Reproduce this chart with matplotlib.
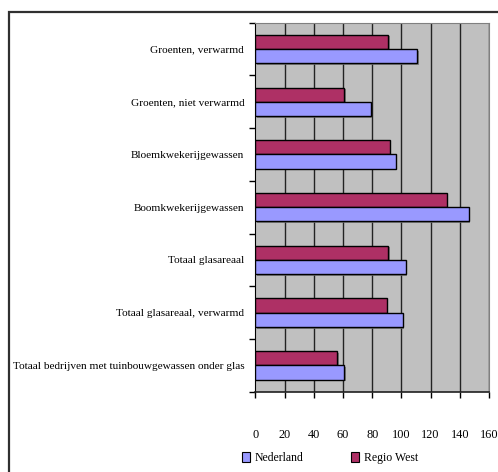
import matplotlib
matplotlib.use("Agg")
import matplotlib.pyplot as plt
import matplotlib.patheffects as pe
from matplotlib.patches import Rectangle, Patch
import numpy as np

categories = [
    "Groenten, verwarmd",
    "Groenten, niet verwarmd",
    "Bloemkwekerijgewassen",
    "Boomkwekerijgewassen",
    "Totaal glasareaal",
    "Totaal glasareaal, verwarmd",
    "Totaal bedrijven met tuinbouwgewassen onder glas",
]
regio_west = [91, 61, 92, 131, 91, 90, 56]
nederland = [111, 79, 96, 146, 103, 101, 61]
xticks = [0, 20, 40, 60, 80, 100, 120, 140, 160]

W, H = 498, 472
fig = plt.figure(figsize=(W / 100, H / 100), dpi=100)
plt.rcParams['font.family'] = ['Liberation Serif', 'DejaVu Serif']

# outer chart border
fig.patches.append(Rectangle((8.5 / W, -0.1), 1.2, 1 - 11.5 / H + 0.1,
                             transform=fig.transFigure, fill=False,
                             edgecolor='#303030', linewidth=1.6))

ax = fig.add_axes([255.3 / W, 1 - 391.7 / H, 233.7 / W, 369 / H])
ax.set_facecolor('#C0C0C0')

y = np.arange(len(categories))
h = 0.27
shadow = [pe.SimplePatchShadow(offset=(1.2, -1.2), shadow_rgbFace='#707070', alpha=0.8), pe.Normal()]
b1 = ax.barh(y - h / 2, regio_west, height=h, color='#AE3065', edgecolor='black',
             linewidth=1.0, zorder=3, label='Regio West')
b2 = ax.barh(y + h / 2, nederland, height=h, color='#9999FF', edgecolor='black',
             linewidth=1.0, zorder=3, label='Nederland')
for b in list(b1) + list(b2):
    b.set_path_effects(shadow)

ax.set_xlim(0, 160)
ax.set_ylim(len(categories) - 0.5, -0.5)
ax.set_xticks(xticks)
ax.set_xticklabels([str(v) for v in xticks], fontsize=8.8)
for v in xticks[1:]:
    ax.axvline(v, color='#222222', linewidth=1.0, zorder=1)

ax.set_yticks(np.arange(len(categories) + 1) - 0.5)
ax.set_yticklabels([])
ax.set_yticks(y, minor=True)
ax.set_yticklabels(categories, minor=True, fontsize=8.1)
ax.tick_params(axis='y', which='major', direction='out', length=4, width=1, color='black')
ax.tick_params(axis='y', which='minor', length=0, pad=8)
ax.tick_params(axis='x', direction='out', length=4, width=1, pad=23, color='black')

ax.spines['left'].set_color('black')
ax.spines['bottom'].set_color('#202020')
ax.spines['bottom'].set_linewidth(1.2)
ax.spines['top'].set_color('#808080')
ax.spines['right'].set_color('#808080')

handles = [Patch(facecolor='#9999FF', edgecolor='black', linewidth=0.8),
           Patch(facecolor='#AE3065', edgecolor='black', linewidth=0.8)]
fig.legend(handles, ['Nederland', 'Regio West'], loc='center',
           bbox_to_anchor=(330 / W, 1 - 458 / H), ncol=2, frameon=False,
           fontsize=8.5, handlelength=0.7, handleheight=1.0, handletextpad=0.4,
           columnspacing=4.0)

fig.savefig('out.png', dpi=100)
